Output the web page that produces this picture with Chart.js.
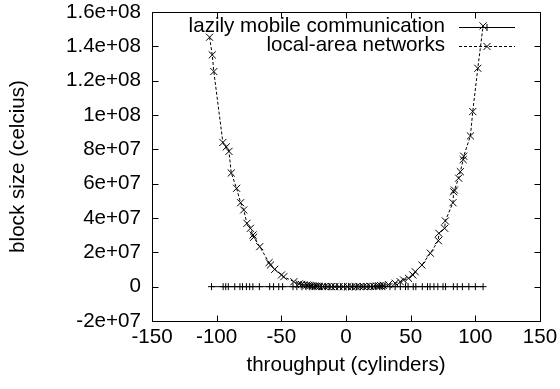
<!DOCTYPE html>
<html>
<head>
<meta charset="utf-8">
<script src="https://cdn.jsdelivr.net/npm/chart.js@4/dist/chart.umd.min.js"></script>
<style>
  html, body { margin: 0; padding: 0; background: #fff; }
  #wrap { width: 560px; height: 389px; position: relative; }
</style>
</head>
<body>
<div id="wrap"><canvas id="c" width="560" height="389"></canvas></div>
<script>
// ---- data ----
const seriesNames = ["lazily mobile communication", "local-area networks"];
const xTitle = "throughput (cylinders)";
const yTitle = "block size (celcius)";

const xTickValues = [-150, -100, -50, 0, 50, 100, 150];
const xTickLabels = ["-150", "-100", "-50", "0", "50", "100", "150"];
const yTickValues = [-2e7, 0, 2e7, 4e7, 6e7, 8e7, 1e8, 1.2e8, 1.4e8, 1.6e8];
const yTickLabels = ["-2e+07", "0", "2e+07", "4e+07", "6e+07", "8e+07", "1e+08", "1.2e+08", "1.4e+08", "1.6e+08"];

const mobileX = [-104, -95, -93, -91, -86, -82, -80, -77, -74.5, -72,
                 -67, -59, -56, -52, -49, -41, -38, -34, -31, -28,
                 -26, -24, -21, -19, -16, -13, -10, -7, -4, -1,
                 2, 5, 8, 11, 14, 17, 20, 23, 26, 28,
                 30, 34, 38, 42, 46, 48, 52, 54, 59, 63,
                 65, 68, 71, 75, 77, 83, 86, 90, 95, 100,
                 106];
const mobileY = [0, 0, 0, 0, 0, 0, 0, 0, 0, 0,
                 0, 0, 0, 0, 0, 0, 0, 0, 0, 0,
                 0, 0, 0, 0, 0, 0, 0, 0, 0, 0,
                 0, 0, 0, 0, 0, 0, 0, 0, 0, 0,
                 0, 0, 0, 0, 0, 0, 0, 0, 0, 0,
                 0, 0, 0, 0, 0, 0, 0, 0, 0, 0,
                 0];

const lanX = [-105.5, -103.4, -102.2, -95.2, -92.6, -90.5, -88.7, -84.6, -81.5, -79.1,
              -76.6, -73.9, -71.9, -71.4, -66.7, -59.5, -58.4, -55.1, -49.9, -48.1,
              -40.3, -36.2, -34.4, -32.5, -30.1, -28.6, -27.2, -25.8, -24.1, -22.3,
              -20.5, -18.2, -16.4, -13.9, -11.2, -8.6, -5.3, -2.1, 1.4, 4.7,
              7.9, 10.8, 13.5, 16.2, 18.9, 21.4, 23.6, 25.3, 26.8, 28.9,
              32.8, 38.0, 41.9, 44.5, 48.3, 51.7, 53.5, 58.7, 65.2, 71.4,
              71.8, 76.3, 76.8, 82.7, 83.2, 83.8, 87.1, 88.4, 90.6, 91.0,
              96.2, 98.0, 101.9, 106.0];
const lanY = [1.453e8, 1.35e8, 1.253e8, 8.4e7, 8.14e7, 7.88e7, 6.62e7, 5.73e7, 4.89e7, 4.47e7,
              3.69e7, 3.40e7, 3.01e7, 2.88e7, 2.33e7, 1.40e7, 1.26e7, 1.01e7, 6.8e6, 5.8e6,
              2.9e6, 1.6e6, 1.3e6, 1.1e6, 9.5e5, 7.8e5, 6.4e5, 5.2e5, 3.9e5, 2.9e5,
              2.1e5, 1.3e5, 8e4, 4e4, 2e4, 6e3, 1e3, 0, 0, 1e3,
              5e3, 1.6e4, 3.9e4, 8e4, 1.5e5, 2.4e5, 3.6e5, 4.8e5, 6.0e5, 8e5,
              1.2e6, 2.0e6, 2.9e6, 3.9e6, 4.9e6, 6.8e6, 8.7e6, 1.26e7, 1.95e7, 2.68e7,
              3.11e7, 3.40e7, 3.83e7, 4.89e7, 5.53e7, 5.63e7, 6.32e7, 6.7e7, 7.4e7, 7.6e7,
              8.78e7, 1.02e8, 1.272e8, 1.519e8];

// ---- chart ----
const FONT = "'Liberation Sans', Arial, Helvetica, sans-serif";
const FS = 20.6;

function pts(xs, ys) { return xs.map((x, i) => ({ x: x, y: ys[i] })); }

const framePlugin = {
  id: 'gnuframe',
  afterDatasetsDraw(chart) {
    const ctx = chart.ctx;
    const a = chart.chartArea;
    const xs = chart.scales.x, ys = chart.scales.y;
    const L = Math.round(a.left) + 0.5, R = Math.round(a.right) + 0.5;
    const T = Math.round(a.top) + 0.5, B = Math.round(a.bottom) + 0.5;
    const tl = 6;
    ctx.save();
    ctx.strokeStyle = '#000';
    ctx.lineWidth = 1;
    ctx.setLineDash([]);
    ctx.beginPath();
    ctx.rect(L, T, R - L, B - T);
    xTickValues.forEach(v => {
      const p = Math.round(xs.getPixelForValue(v)) + 0.5;
      ctx.moveTo(p, B); ctx.lineTo(p, B - tl);
      ctx.moveTo(p, T); ctx.lineTo(p, T + tl);
    });
    yTickValues.forEach(v => {
      const p = Math.round(ys.getPixelForValue(v)) + 0.5;
      ctx.moveTo(L, p); ctx.lineTo(L + tl, p);
      ctx.moveTo(R, p); ctx.lineTo(R - tl, p);
    });
    ctx.stroke();
    ctx.restore();
  }
};

const keyPlugin = {
  id: 'gnukey',
  afterDraw(chart) {
    const ctx = chart.ctx;
    const textRight = 445, lineL = 459, lineR = 515, rowY0 = 26.5, rowH = 19;
    ctx.save();
    ctx.font = FS + 'px ' + FONT;
    ctx.textAlign = 'right';
    ctx.textBaseline = 'middle';
    ctx.fillStyle = '#000';
    chart.data.datasets.forEach((ds, i) => {
      const y = rowY0 + i * rowH;
      ctx.fillText(ds.label, textRight, y);
      ctx.strokeStyle = ds.borderColor;
      ctx.lineWidth = ds.borderWidth;
      ctx.setLineDash(ds.borderDash || []);
      ctx.beginPath();
      ctx.moveTo(lineL, Math.round(y) + 0.5);
      ctx.lineTo(lineR, Math.round(y) + 0.5);
      ctx.stroke();
      ctx.setLineDash([]);
      Chart.helpers.drawPoint(ctx, {
        pointStyle: ds.pointStyle, radius: ds.pointRadius, borderWidth: ds.pointBorderWidth, rotation: 0
      }, (lineL + lineR) / 2, Math.round(y) + 0.5);
    });
    ctx.restore();
  }
};

new Chart(document.getElementById('c'), {
  type: 'scatter',
  data: {
    datasets: [
      {
        label: seriesNames[0],
        data: pts(mobileX, mobileY),
        showLine: true,
        borderColor: '#000',
        backgroundColor: '#000',
        borderWidth: 1,
        pointStyle: 'cross',
        pointRadius: 3.5,
        pointBorderWidth: 1,
        pointBorderColor: '#000',
        pointHoverRadius: 3.5
      },
      {
        label: seriesNames[1],
        data: pts(lanX, lanY),
        showLine: true,
        borderColor: '#000',
        backgroundColor: '#000',
        borderWidth: 1,
        borderDash: [3, 2],
        pointStyle: 'crossRot',
        pointRadius: 5,
        pointBorderWidth: 1,
        pointBorderColor: '#000',
        pointHoverRadius: 5
      }
    ]
  },
  options: {
    responsive: false,
    animation: false,
    devicePixelRatio: 1,
    layout: { padding: { top: 12, right: 20, left: 0, bottom: 0 } },
    plugins: {
      legend: { display: false },
      tooltip: { enabled: false }
    },
    scales: {
      x: {
        type: 'linear',
        min: -150, max: 150,
        afterBuildTicks: s => { s.ticks = xTickValues.map(v => ({ value: v })); },
        afterFit: s => { s.height = 68; s.paddingLeft = 0; s.paddingRight = 0; },
        grid: { display: false, drawTicks: false },
        border: { display: false },
        ticks: {
          color: '#000',
          font: { family: FONT, size: FS },
          padding: 4,
          maxRotation: 0,
          callback: v => { const i = xTickValues.indexOf(v); return i >= 0 ? xTickLabels[i] : ''; }
        },
        title: {
          display: true, text: xTitle, color: '#000',
          font: { family: FONT, size: FS },
          padding: { top: 0, bottom: 11 }
        }
      },
      y: {
        type: 'linear',
        min: -2e7, max: 1.6e8,
        afterBuildTicks: s => { s.ticks = yTickValues.map(v => ({ value: v })); },
        afterFit: s => { s.width = 152; s.paddingTop = 0; s.paddingBottom = 0; },
        grid: { display: false, drawTicks: false },
        border: { display: false },
        ticks: {
          color: '#000',
          font: { family: FONT, size: FS },
          padding: 11,
          callback: v => { const i = yTickValues.indexOf(v); return i >= 0 ? yTickLabels[i] : ''; }
        },
        title: {
          display: true, text: yTitle, color: '#000',
          font: { family: FONT, size: FS },
          padding: { top: 6, bottom: 0 }
        }
      }
    }
  },
  plugins: [framePlugin, keyPlugin]
});
</script>
</body>
</html>
